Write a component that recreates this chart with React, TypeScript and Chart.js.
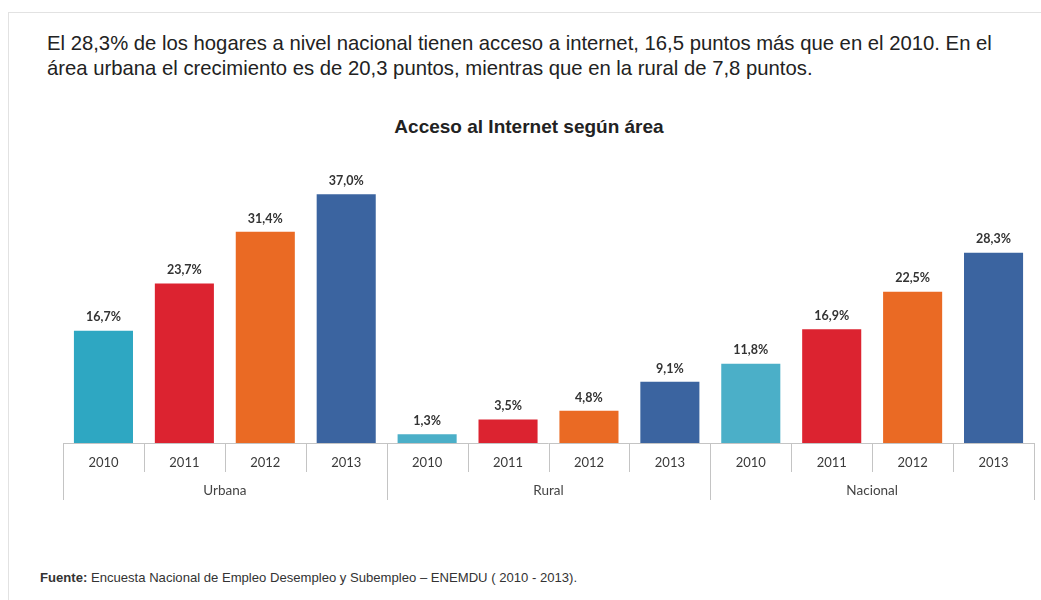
import React, { useEffect, useRef } from 'react';
import { Chart, registerables } from 'chart.js';

Chart.register(...registerables);

// data
const groups = ['Urbana', 'Rural', 'Nacional'];
const years = ['2010', '2011', '2012', '2013'];
const urbana = [16.7, 23.7, 31.4, 37.0];
const rural = [1.3, 3.5, 4.8, 9.1];
const nacional = [11.8, 16.9, 22.5, 28.3];

const urbanaColors = ['#2ea7c2', '#dc2330', '#ea6a24', '#3b64a0'];
const otherColors = ['#4bafc8', '#dc2330', '#ea6a24', '#3b64a0'];

const fmt = (v: number) => v.toFixed(1).replace('.', ',') + '%';

const separatorsPlugin = {
    id: 'separators',
    afterDraw(chart: any) {
        const { ctx } = chart;
        const x = chart.scales.x;
        const n = x.getLabels().length;
        const step = x.getPixelForValue(1) - x.getPixelForValue(0);
        const base = x.top;
        ctx.save();
        ctx.strokeStyle = '#c4c4c4';
        ctx.lineWidth = 1;
        ctx.beginPath();
        ctx.moveTo(x.left, base + 0.5);
        ctx.lineTo(x.right, base + 0.5);
        ctx.stroke();
        for (let i = 0; i <= n; i++) {
            const px = Math.round(x.getPixelForValue(0) - step / 2 + i * step) + 0.5;
            const isGroup = i % years.length === 0;
            ctx.beginPath();
            ctx.moveTo(px, base);
            ctx.lineTo(px, base + (isGroup ? 57 : 29));
            ctx.stroke();
        }
        ctx.fillStyle = '#444';
        ctx.font = '13.5px Lato';
        ctx.textAlign = 'center';
        ctx.textBaseline = 'middle';
        groups.forEach((g, gi) => {
            const first = x.getPixelForValue(gi * years.length);
            const last = x.getPixelForValue(gi * years.length + years.length - 1);
            ctx.fillText(g, (first + last) / 2, base + 48);
        });
        ctx.restore();
    },
    afterDatasetsDraw(chart: any) {
        const { ctx } = chart;
        const meta = chart.getDatasetMeta(0);
        const data = chart.data.datasets[0].data as number[];
        ctx.save();
        ctx.fillStyle = '#333';
        ctx.font = 'bold 12.5px Lato';
        ctx.textAlign = 'center';
        ctx.textBaseline = 'bottom';
        meta.data.forEach((bar: any, i: number) => {
            ctx.fillText(fmt(data[i]), bar.x, bar.y - 7);
        });
        ctx.restore();
    },
};

function AreaChart() {
    const chartRef = useRef<HTMLCanvasElement | null>(null);

    useEffect(() => {
        let chartInstance: Chart | null = null;
        if (chartRef.current) {
            const ctx = chartRef.current.getContext('2d');
            if (ctx) {
                const labels = groups.flatMap(() => years);
                const values = [...urbana, ...rural, ...nacional];
                const colors = [...urbanaColors, ...otherColors, ...otherColors];
                chartInstance = new Chart(ctx, {
                    type: 'bar',
                    data: {
                        labels,
                        datasets: [{ data: values, backgroundColor: colors, barPercentage: 0.73, categoryPercentage: 1 }],
                    },
                    options: {
                        animation: false,
                        responsive: false,
                        layout: { padding: { left: 63, right: 7, top: 24, bottom: 7 } },
                        plugins: { legend: { display: false }, tooltip: { enabled: false } },
                        scales: {
                            y: { display: false, min: 0, max: 40 },
                            x: {
                                grid: { display: false, drawTicks: false },
                                border: { display: false },
                                ticks: { color: '#3a3a3a', font: { family: 'Lato', size: 13 }, padding: 12, maxRotation: 0, autoSkip: false },
                                afterFit: (scale: any) => { scale.height = 60; },
                            },
                        },
                    },
                    plugins: [separatorsPlugin],
                });
            }
        }
        return () => {
            if (chartInstance) chartInstance.destroy();
        };
    }, []);

    return <canvas ref={chartRef} width={1041} height={360} style={{ position: 'absolute', left: 0, top: 150, width: 1041, height: 360 }} />;
}

export default function App() {
    return (
        <div style={{ position: 'fixed', inset: 0, background: '#fff', fontFamily: '"Liberation Sans", Arial, sans-serif', color: '#222' }}>
            <div style={{ position: 'absolute', left: 8, top: 12, right: 0, bottom: 0, borderTop: '1px solid #e2e2e2', borderLeft: '1px solid #e2e2e2' }} />
            <div style={{ position: 'absolute', left: 47, top: 31, width: 1000, fontSize: 20.3, lineHeight: '25px', whiteSpace: 'nowrap' }}>
                El 28,3% de los hogares a nivel nacional tienen acceso a internet, 16,5 puntos más que en el 2010. En el<br />
                área urbana el crecimiento es de 20,3 puntos, mientras que en la rural de 7,8 puntos.
            </div>
            <div style={{ position: 'absolute', left: 0, width: 1058, top: 116, textAlign: 'center', fontSize: 19, fontWeight: 'bold' }}>
                Acceso al Internet según área
            </div>
            <AreaChart />
            <div style={{ position: 'absolute', left: 40, top: 570, fontSize: 13.1, color: '#333' }}>
                <b>Fuente:</b> Encuesta Nacional de Empleo Desempleo y Subempleo – ENEMDU ( 2010 - 2013).
            </div>
        </div>
    );
}
